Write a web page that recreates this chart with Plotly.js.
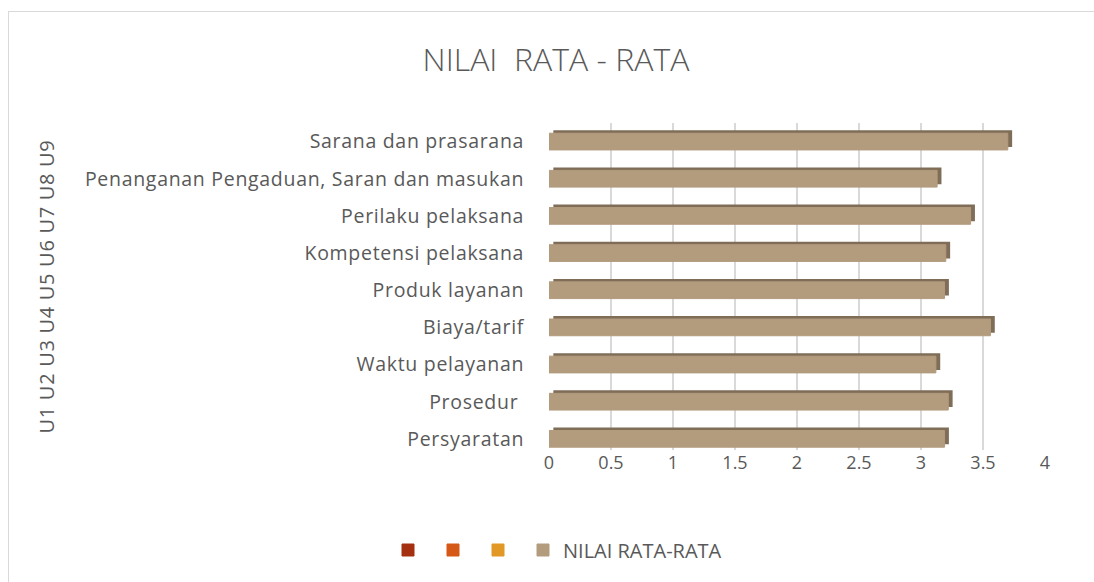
<!DOCTYPE html>
<html>
<head>
<meta charset="utf-8">
<script src="https://cdn.plot.ly/plotly-3.0.1.min.js"></script>
<style>
  body { margin: 0; background: #fff; }
  #frame { position: absolute; left: 8px; top: 11px; width: 1100px; height: 580px; border: 1px solid #d9d9d9; }
  #chart { position: absolute; left: 0; top: 0; width: 1094px; height: 582px; }
  #chart .ytick text, #chart .ytitle { letter-spacing: 0.7px; }
</style>
</head>
<body>
<div id="frame"></div>
<div id="chart"></div>
<script>
const categories = ['Persyaratan', 'Prosedur ', 'Waktu pelayanan', 'Biaya/tarif', 'Produk layanan',
  'Kompetensi pelaksana', 'Perilaku pelaksana', 'Penanganan Pengaduan, Saran dan masukan', 'Sarana dan prasarana']
const nilai = [3.19, 3.22, 3.12, 3.56, 3.19, 3.20, 3.40, 3.13, 3.70]
const xTicks = [0, 0.5, 1, 1.5, 2, 2.5, 3, 3.5, 4]
const seriesName = 'NILAI RATA-RATA'
const emptyColors = ['#a5300f', '#d55816', '#e19825']

const textColor = '#595959'
const font = 'Open Sans, Liberation Sans, sans-serif'

const data = []
// empty series, only shown in the legend
for (const c of emptyColors){
    data.push({type: 'bar', orientation: 'h', x: [null], y: [null], name: '',
        marker: {color: c, line: {color: c, width: 1}}})
}
// darker back copy gives the 3D edge
data.push({
    type: 'bar', orientation: 'h', x: nilai, y: categories, base: 0.035,
    width: 0.45, offset: -0.145, marker: {color: '#7f6d57'},
    showlegend: false, hoverinfo: 'skip'
})
data.push({
    type: 'bar', orientation: 'h', x: nilai, y: categories, name: seriesName,
    width: 0.45, offset: -0.225, marker: {color: '#b39b7e', line: {color: '#b39b7e', width: 1}}
})

const layout = {
    width: 1094, height: 582,
    margin: {l: 549, r: 49, t: 123, b: 132},
    paper_bgcolor: 'rgba(0,0,0,0)', plot_bgcolor: 'rgba(0,0,0,0)',
    barmode: 'overlay',
    font: {family: font, color: textColor, size: 18},
    title: {text: 'NILAI  RATA - RATA', x: 556 / 1094, xref: 'container', xanchor: 'center',
        y: 1 - 60 / 582, yref: 'container', yanchor: 'middle',
        font: {family: font, size: 32, weight: 300, color: textColor}},
    xaxis: {range: [0, 4], tickvals: xTicks, ticktext: xTicks.map(String),
        showgrid: true, gridcolor: '#d9d9d9', gridwidth: 2, zeroline: false,
        showline: false, ticks: '', tickfont: {size: 18, color: textColor}},
    yaxis: {type: 'category', categoryarray: categories, range: [-0.3, 8.5],
        showgrid: false, zeroline: false, showline: false,
        ticks: 'outside', ticklen: 20, tickcolor: 'rgba(0,0,0,0)',
        tickfont: {size: 19.5, color: textColor}, automargin: false,
        title: {text: 'U1 U2 U3 U4 U5 U6 U7 U8 U9', standoff: 52, font: {size: 20, color: textColor}}},
    showlegend: true,
    legend: {orientation: 'h', xref: 'container', yref: 'container', x: 388 / 1094, y: 32 / 582,
        xanchor: 'left', yanchor: 'middle', font: {size: 20, color: textColor},
        traceorder: 'normal', itemwidth: 30}
}

Plotly.newPlot('chart', data, layout, {displayModeBar: false, staticPlot: true})
</script>
</body>
</html>
